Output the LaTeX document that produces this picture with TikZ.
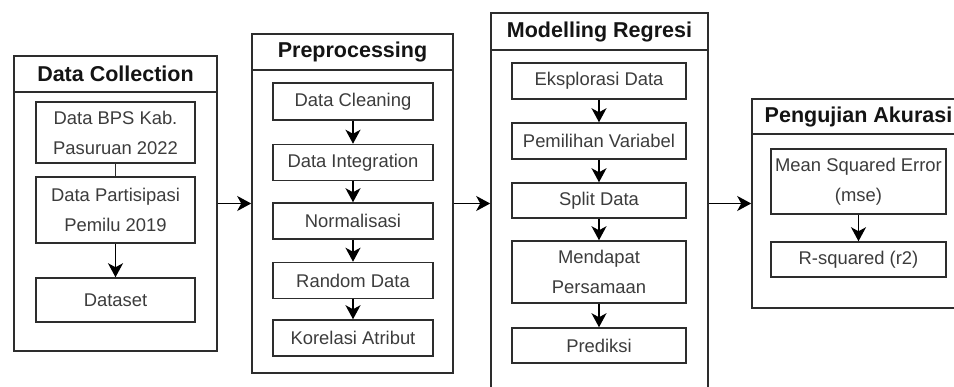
\documentclass[tikz,border=0pt]{standalone}
\usepackage{fontspec}
\setmainfont{Liberation Sans}
\usetikzlibrary{arrows.meta}
\definecolor{bordc}{RGB}{45,45,45}
\definecolor{txtc}{RGB}{60,60,60}
\definecolor{headc}{RGB}{20,20,20}
\tikzset{
  outerbox/.style={draw=bordc, line width=1.6pt, inner sep=0pt, fill=white},
  headbox/.style={draw=bordc, line width=1.6pt, inner sep=0pt, text=headc,
    font=\fontsize{21.5}{24}\selectfont\bfseries},
  stepbox/.style={draw=bordc, line width=1.5pt, inner sep=0pt, align=center, text=txtc,
    font=\fontsize{18.4}{30}\selectfont},
  arr/.style={draw=black, line width=1.6pt, -{Stealth[length=14pt,width=15pt,inset=4pt]}},
  plainline/.style={draw=bordc, line width=1.5pt}
}
\begin{document}
\begin{tikzpicture}[x=1pt,y=-1pt]
\clip (0,0) rectangle (954,387);
\fill[white] (0,0) rectangle (954,387);

% Group 1: Data Collection
\node[outerbox, minimum width=203pt, minimum height=295pt] (g1) at (115.5,203.5) {};
\node[headbox, minimum width=203pt, minimum height=36pt] (h1) at (115.5,74) {Data Collection};
\node[stepbox, minimum width=159pt, minimum height=61pt] (a1) at (115.5,132.5) {Data BPS Kab.\\Pasuruan 2022};
\node[stepbox, minimum width=159pt, minimum height=66pt] (a2) at (115.5,210) {Data Partisipasi\\Pemilu 2019};
\node[stepbox, minimum width=159pt, minimum height=44pt] (a3) at (115.5,300) {Dataset};
\draw[plainline] (a1.south) -- (a2.north);
\draw[arr] (a2.south) -- (a3.north);

% Group 2: Preprocessing
\node[outerbox, minimum width=201pt, minimum height=339pt] (g2) at (352.5,203.5) {};
\node[headbox, minimum width=201pt, minimum height=36pt] (h2) at (352.5,52) {Preprocessing};
\node[stepbox, minimum width=160pt, minimum height=37pt] (b1) at (353,101.5) {Data Cleaning};
\node[stepbox, minimum width=160pt, minimum height=36pt] (b2) at (353,162.5) {Data Integration};
\node[stepbox, minimum width=160pt, minimum height=36pt] (b3) at (353,221) {Normalisasi};
\node[stepbox, minimum width=160pt, minimum height=36pt] (b4) at (353,280.5) {Random Data};
\node[stepbox, minimum width=160pt, minimum height=36pt] (b5) at (353,338) {Korelasi Atribut};
\draw[arr] (b1.south) -- (b2.north);
\draw[arr] (b2.south) -- (b3.north);
\draw[arr] (b3.south) -- (b4.north);
\draw[arr] (b4.south) -- (b5.north);

% Group 3: Modelling Regresi
\node[outerbox, minimum width=217pt, minimum height=381pt] (g3) at (599.5,203.5) {};
\node[headbox, minimum width=217pt, minimum height=37pt] (h3) at (599.5,31.5) {Modelling Regresi};
\node[stepbox, minimum width=174pt, minimum height=36pt] (c1) at (599,81) {Eksplorasi Data};
\node[stepbox, minimum width=174pt, minimum height=36pt] (c2) at (599,141) {Pemilihan Variabel};
\node[stepbox, minimum width=174pt, minimum height=35pt] (c3) at (599,200.5) {Split Data};
\node[stepbox, minimum width=174pt, minimum height=62pt] (c4) at (599,272) {Mendapat\\Persamaan};
\node[stepbox, minimum width=174pt, minimum height=35pt] (c5) at (599,345.5) {Prediksi};
\draw[arr] (c1.south) -- (c2.north);
\draw[arr] (c2.south) -- (c3.north);
\draw[arr] (c3.south) -- (c4.north);
\draw[arr] (c4.south) -- (c5.north);

% Group 4: Pengujian Akurasi
\node[outerbox, minimum width=213pt, minimum height=209pt] (g4) at (858.5,203.5) {};
\node[headbox, minimum width=213pt, minimum height=35pt] (h4) at (858.5,116.5) {Pengujian Akurasi};
\node[stepbox, minimum width=175pt, minimum height=65pt] (d1) at (858.5,181.5) {Mean Squared Error\\(mse)};
\node[stepbox, minimum width=175pt, minimum height=35pt] (d2) at (858.5,259.5) {R-squared (r2)};
\draw[arr] (d1.south) -- (d2.north);

% Connections between groups
\draw[arr] (g1.east) -- (g2.west);
\draw[arr] (g2.east) -- (g3.west);
\draw[arr] (g3.east) -- (g4.west);
\end{tikzpicture}
\end{document}
